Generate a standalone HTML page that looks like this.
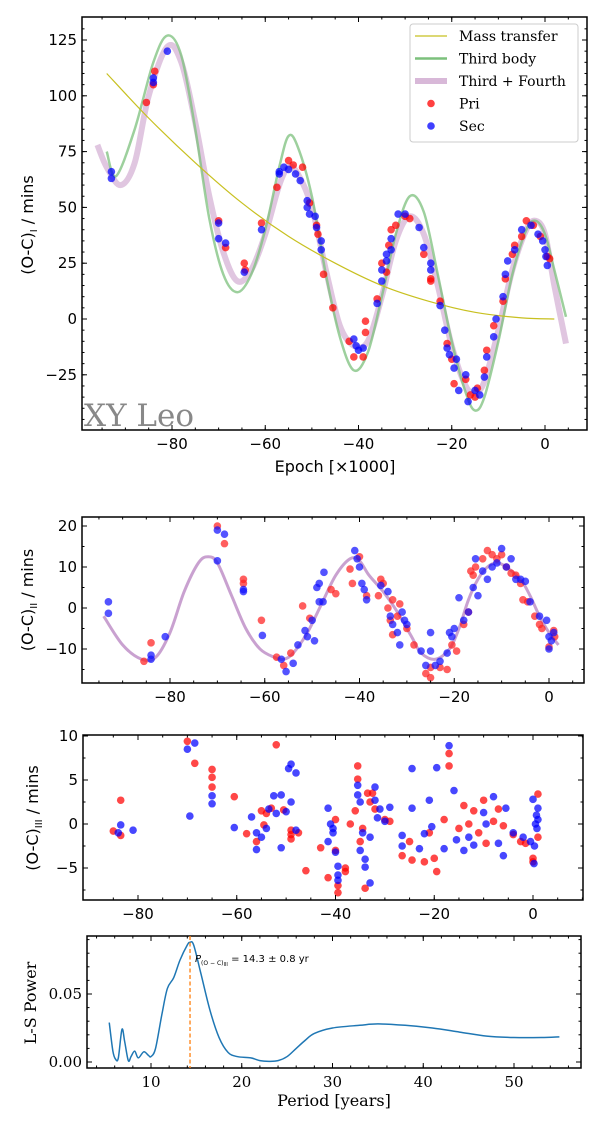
<!DOCTYPE html>
<html><head><meta charset="utf-8">
<style>
html,body{margin:0;padding:0;background:#fff;}
svg{display:block;}
</style></head>
<body>
<svg id="fig" width="600" height="1123" viewBox="0 0 600 1123" xmlns="http://www.w3.org/2000/svg"></svg>
<script>
// ---------- Panel 1 data ----------
const massEpoch = [-94,-85,-75,-65,-55,-45,-35,-25,-15,-5,2];
const massOC = [110,90,70,52,37,25,15,8,3,0.5,0];
const thirdEpoch = [-94,-92,-88,-84,-81,-78,-75,-72,-69,-66,-63,-60,-57,-55,-53,-50,-47,-44,-41,-38,-35,-32,-29,-26,-23,-20,-17,-15,-13,-10,-7,-4,-2,0,2,4.5];
const thirdOC = [75,64,85,115,127,118,85,45,20,12,20,40,68,82,77,55,20,-8,-23,-15,10,38,55,48,20,-10,-33,-41,-35,-10,20,40,44,38,22,1];
const fourthEpoch = [-96,-94,-91,-88,-85,-81,-78,-75,-72,-69,-66,-63,-60,-57,-55,-53,-50,-47,-44,-41,-38,-35,-32,-29,-26,-23,-20,-17,-15,-13,-10,-7,-4,-2,0,2,4.5];
const fourthOC = [78,68,60,70,100,122,115,88,55,30,17,22,38,60,68,65,50,22,-3,-12,-10,10,35,46,38,15,-12,-30,-33,-28,-5,22,40,44,38,15,-11];
const priEpoch1 = [-85.5,-84,-83.7,-70,-68.5,-64.5,-64.3,-60.8,-57.5,-55,-54,-52,-50.5,-49,-48.7,-47.5,-45.5,-42,-41,-39,-38.5,-38.5,-36,-35,-34,-33.5,-33,-32,-30,-29,-26,-24.5,-24.5,-22.5,-21,-20,-19.5,-17,-16,-15,-14.5,-13,-12.5,-11,-9,-8.5,-7,-6.5,-5,-4,-2.5,-1,0.5,1];
const priOC1 = [97,105,111,44,32,25,22,43,59,71,69,68,52,42,38,20,5,-10,-17,-17,-1,-6,9,25,21,33,40,42,46,45,29,17,18,8,-11,-18,-29,-27,-34,-35,-31,-23,-14,-3,8,18,29,33,37,44,42,37,28,27];
const secEpoch1 = [-93,-93,-84,-84,-81,-70,-70,-68.5,-64.5,-60.8,-57,-57,-56,-55,-53.5,-52.5,-51,-51,-50.5,-49.3,-49,-48,-48,-41,-40.5,-40,-39,-36,-35,-35,-34,-34,-33,-33,-31.5,-30,-27,-26,-24.5,-24.5,-22.5,-21.5,-21,-20.5,-19.5,-19,-18.5,-17,-16.5,-15,-14,-13,-12.5,-11,-10.5,-9,-8.5,-8,-6.5,-5,-3,-1.5,-0.5,0,0.2,0.5];
const secOC1 = [66,63,108,106,120,43,36,34,21,40,66,65,68,67,65,62,53,50,47,46,41,35,31,-9,-12,-14,-13,7,17,22,26,29,31,36,47,47,41,32,25,22,6,-5,-13,-16,-22,-18,-32,-25,-37,-32,-34,-26,-17,-8,0,10,20,26,31,40,42,38,35,31,28,24];
// ---------- Panel 2 data ----------
const resEpoch2 = [-94,-90,-86,-83,-80,-77,-74,-72,-70,-67,-64,-61,-58,-56,-54,-51,-48,-45,-42,-40,-38,-35,-32,-29,-27,-24,-21,-19,-17,-15,-13,-11,-9,-6,-4,-2,0,2];
const resOC2 = [-2,-9,-12.5,-12,-6,4,11,12.5,11,3,-5,-10,-12,-12.5,-11,-6,1,8,12,11.5,8,4,-1,-7,-11,-12.5,-10,-5,2,7,10,11,10,7,3,-2,-6,-9];
const secEpoch2 = [-93,-93,-84,-84,-81,-70,-70,-68.5,-64.5,-64.5,-60.5,-56.5,-55.5,-54,-53,-51.5,-51,-50,-49.5,-49,-48.5,-48.5,-47.5,-47.7,-41,-40.5,-40,-39.5,-39,-38.5,-35.5,-34,-33.5,-33,-32,-31,-30.5,-30,-31.5,-27,-26,-25,-25,-24,-23,-21.5,-21,-20.5,-20,-19,-18,-17,-16,-15.5,-15,-14,-13,-12,-11,-10,-9,-8,-7,-6,-5,-4,-2,-0.5,0,0,0.5,1];
const secOC2 = [1.5,-1.3,-11.5,-12.5,-7,19,11.5,18,4.5,4,-6.7,-12.5,-15.5,-13.5,-9,-5.5,-7,-3,-8,5,6,1.5,8.7,1.5,14,12,10,6,4.5,2,5.5,4,-2,-4,-6,-1,-3,-4,-9,-10.5,-14,-10.5,-6,-14,-13,-11,-6,-7,-5,2.5,-3,-1,5,12,3,9,7,10,11,14.5,10,12,7,7,6.5,1.5,-2,-3,-10,-7,-8,-6];
const priEpoch2 = [-85.5,-84,-70,-68.5,-64.5,-64.5,-60.7,-57.5,-56,-54.5,-52,-50.5,-46,-45,-42,-41.5,-40,-38.5,-36,-35.5,-35,-34,-33.5,-33,-33,-32,-31.5,-30,-28.5,-26,-25,-25,-23,-21.5,-20.5,-19.5,-18,-17,-16.5,-16,-15.5,-14,-13,-12,-11,-10,-9,-8,-7,-6,-5.5,-4.5,-3,-2,-1.5,0,1,1.2];
const priOC2 = [-13,-8.5,20,15.7,7,6,-3,-12,-14,-11,0.5,-2.5,4.5,3.5,9.5,6,12.5,3,3,7,6,0,-3,2,-6.5,-2,1,-5,-9,-16,-14.5,-17,-14.5,-15,-9,-10.5,-4,-1,9,8,10,12,14,13,12,13,10,8.5,8,6,2,1.5,-2,-4,-5,-9.5,-5.5,-7];
// ---------- Panel 3 data ----------
const priEpoch3 = [-85,-83.5,-83.5,-70,-68.5,-65,-65,-65,-60.5,-58,-56,-55,-54.5,-54,-53,-52,-50.5,-49,-49,-49,-47.5,-46,-43,-41.5,-40,-40,-39.5,-39.5,-38,-38,-37,-36,-35.5,-35.5,-35,-34.5,-34,-33.5,-33,-32.5,-32,-30,-29,-26.5,-25,-24.5,-22,-21,-20,-19.5,-18,-17,-17,-15,-14,-13,-12,-11,-10,-9.5,-8,-7,-6,-4,-2.5,-1.5,0,0,1,1];
const priOC3 = [-0.8,2.7,-1.3,9.4,6.9,6.2,5.3,4.2,3.1,-1.1,-2,1.5,-0.1,1.2,1.8,9,1.6,-0.7,-1.2,-1.7,-1,-5.3,-2.7,-6.1,-3,0.5,-7,-7.8,-5,-5.4,0,1.5,6.6,5.1,-2,-0.5,-7.3,3.5,2.5,3.5,1.7,0.5,0.3,-3.6,-2,-4.1,-4.3,-1,-3.9,-5.4,0.5,8,6.6,-0.5,2.1,0,1.5,-1,2.7,-2.2,0.3,1.7,-0.2,-1.2,-2,-2.2,-3.9,-4.3,3.4,-1.5];
const secEpoch3 = [-84,-83.5,-81,-70,-69.5,-68.5,-65,-65,-60.5,-57,-56,-56,-55,-54,-53.5,-52.5,-52,-51,-51,-50,-49.5,-49,-49,-48,-48,-41.5,-41.5,-41,-40.5,-40,-39.5,-39.5,-39.5,-40.5,-35.5,-35.5,-35,-35,-34.5,-34,-34,-33,-32,-32,-31.5,-31,-30,-29,-33,-26.5,-26.5,-24.5,-24.5,-23,-22,-21,-20.5,-19.5,-18,-17,-16,-15.5,-14,-13,-12,-10,-9.5,-8,-7,-6,-5.5,-4,-2,-0.5,0,0.3,0.2,0.5,0.7,0.8,1,1];
const secOC3 = [-1,-0.1,-0.7,8.5,0.9,9.2,3.2,2.3,-0.4,0.8,-2.9,-1,-1.5,-0.5,1.7,3.2,1.2,3.3,-2.7,1.4,6.3,6.8,2.5,5.8,-0.7,1.8,-2,0,-1,-3.2,-4.8,-6.4,-5.8,-0.5,4.4,3.3,2.5,-3,-1,-4,-4.9,-1.5,4.2,2.7,0.7,1.7,0.3,1.9,-6.7,-1.3,-2.5,1.8,6.3,-2.8,-1.1,2.7,-0.3,6.4,-2.8,8.9,3.8,-1.8,-3,-1.5,-2.4,1.3,0,3.1,-2.2,-3.6,1.8,-1,-1.5,-2,2.8,-2.5,-4.5,0,1,-0.5,1.8,0.5];
// ---------- Panel 4 data ----------
const lsPeriod = [5.4,5.8,6.1,6.4,6.8,7.1,7.5,7.8,8.2,8.6,9.2,9.7,10,10.5,11.2,11.8,12.5,13.2,14,14.3,14.7,15.5,16.5,17.5,18.5,19.5,21,22,23,24,25,26,27,28,30,33,35,38,41,44,47,50,53,55];
const lsPower = [0.029,0.008,0.002,0.003,0.024,0.015,0.001,0.004,0.008,0.003,0.0075,0.005,0.004,0.01,0.035,0.054,0.062,0.075,0.086,0.088,0.086,0.065,0.038,0.018,0.007,0.004,0.003,0.001,0.0005,0.001,0.004,0.01,0.016,0.021,0.025,0.027,0.028,0.027,0.025,0.022,0.019,0.018,0.018,0.0185];
const peakPeriod = [14.3];

const NS='http://www.w3.org/2000/svg';
const svg=document.getElementById('fig');
function mk(tag,attrs,parent){const e=document.createElementNS(NS,tag);for(const k in attrs)e.setAttribute(k,attrs[k]);(parent||svg).appendChild(e);return e;}
function scale(d0,d1,r0,r1){return v=>r0+(v-d0)*(r1-r0)/(d1-d0);}
function smoothPath(xs,ys,sx,sy){
  const p=xs.map((x,i)=>[sx(x),sy(ys[i])]);
  let d='M'+p[0][0].toFixed(2)+','+p[0][1].toFixed(2);
  for(let i=0;i<p.length-1;i++){
    const p0=p[i-1]||p[i],p1=p[i],p2=p[i+1],p3=p[i+2]||p2;
    const c1=[p1[0]+(p2[0]-p0[0])/6,p1[1]+(p2[1]-p0[1])/6];
    const c2=[p2[0]-(p3[0]-p1[0])/6,p2[1]-(p3[1]-p1[1])/6];
    d+='C'+c1[0].toFixed(2)+','+c1[1].toFixed(2)+' '+c2[0].toFixed(2)+','+c2[1].toFixed(2)+' '+p2[0].toFixed(2)+','+p2[1].toFixed(2);
  }
  return d;
}
function frame(g,L,T,R,B,sx,sy,xmaj,xmin,ymaj,ymin,xl,yl,font,fs){
  mk('rect',{x:L,y:T,width:R-L,height:B-T,fill:'none',stroke:'#000','stroke-width':1.5},g);
  const tk=mk('g',{stroke:'#000','stroke-width':1},g);
  xmin.forEach(v=>{const x=sx(v);mk('line',{x1:x,x2:x,y1:B,y2:B-2.5},tk);mk('line',{x1:x,x2:x,y1:T,y2:T+2.5},tk);});
  xmaj.forEach(v=>{const x=sx(v);mk('line',{x1:x,x2:x,y1:B,y2:B-5},tk);mk('line',{x1:x,x2:x,y1:T,y2:T+5},tk);});
  ymin.forEach(v=>{const y=sy(v);mk('line',{x1:L,x2:L+2.5,y1:y,y2:y},tk);mk('line',{x1:R,x2:R-2.5,y1:y,y2:y},tk);});
  ymaj.forEach(v=>{const y=sy(v);mk('line',{x1:L,x2:L+5,y1:y,y2:y},tk);mk('line',{x1:R,x2:R-5,y1:y,y2:y},tk);});
  xmaj.forEach((v,i)=>{const t=mk('text',{x:sx(v),y:B+19,'text-anchor':'middle','font-family':font,'font-size':fs,fill:'#000'},g);t.textContent=xl[i];});
  ymaj.forEach((v,i)=>{const t=mk('text',{x:L-5,y:sy(v)+5,'text-anchor':'end','font-family':font,'font-size':fs,fill:'#000'},g);t.textContent=yl[i];});
}
function range(a,b,s){const r=[];for(let v=a;v<=b+1e-9;v+=s)r.push(+v.toFixed(6));return r;}
function dots(g,xs,ys,sx,sy,color,name){
  xs.forEach((x,i)=>{const c=mk('circle',{cx:sx(x),cy:sy(ys[i]),r:3.8,fill:color,'fill-opacity':0.72},g);});
}
const SANS='"DejaVu Sans","Liberation Sans",sans-serif';
const SERIF='"DejaVu Serif","Liberation Serif",serif';

// ===== Panel 1 =====
(function(){
  const g=mk('g',{});
  const L=82,R=587,T=17,B=430;
  const sx=scale(-80,0,172,545), sy=scale(0,125,319,40);
  const cl=mk('clipPath',{id:'c1'});mk('rect',{x:L,y:T,width:R-L,height:B-T},cl);
  const pg=mk('g',{'clip-path':'url(#c1)'},g);
  let p=mk('path',{d:smoothPath(fourthEpoch,fourthOC,sx,sy),fill:'none',stroke:'#d8b8d8','stroke-width':6,'stroke-opacity':0.8},pg);
  p=mk('path',{d:smoothPath(thirdEpoch,thirdOC,sx,sy),fill:'none',stroke:'#7cc07c','stroke-width':2.5,'stroke-opacity':0.75},pg);
  p=mk('path',{d:smoothPath(massEpoch,massOC,sx,sy),fill:'none',stroke:'#c8c020','stroke-width':1.2},pg);
  dots(pg,priEpoch1,priOC1,sx,sy,'#ff0000','pri-point');
  dots(pg,secEpoch1,secOC1,sx,sy,'#0000ff','sec-point');
  frame(g,L,T,R,B,sx,sy,[-80,-60,-40,-20,0],range(-95,5,5),[-25,0,25,50,75,100,125],range(-45,130,5),['−80','−60','−40','−20','0'],['−25','0','25','50','75','100','125'],SANS,15);
  let t=mk('text',{x:84,y:426,'font-family':SERIF,'font-size':31,fill:'#888'},g);t.textContent='XY Leo';
  t=mk('text',{x:335,y:472,'text-anchor':'middle','font-family':SANS,'font-size':16},g);t.textContent='Epoch [×1000]';
  t=mk('text',{transform:'translate(33,225) rotate(-90)','text-anchor':'middle','font-family':SANS,'font-size':16},g);t.innerHTML='(O-C)<tspan font-size="10" dy="4">I</tspan><tspan dy="-4"> / mins</tspan>';
  // legend
  const lg=mk('g',{});
  mk('rect',{x:410,y:24,width:168,height:118,rx:3,fill:'#fff','fill-opacity':0.85,stroke:'#ccc'},lg);
  const items=[['Mass transfer','line','#c8c020',1.2],['Third body','line','#7cc07c',2.5],['Third + Fourth','line','#d8b8d8',6],['Pri','dot','#ff0000'],['Sec','dot','#0000ff']];
  items.forEach((it,i)=>{const y=36+i*22.5;const e=mk('g',{},lg);
    if(it[1]==='line')mk('line',{x1:415,x2:447,y1:y,y2:y,stroke:it[2],'stroke-width':it[3]},e);else mk('circle',{cx:431,cy:y,r:3.8,fill:it[2],'fill-opacity':0.75},e);
    const tt=mk('text',{x:459,y:y+5,'font-family':SERIF,'font-size':14},e);tt.textContent=it[0];});
})();

// ===== Panel 2 =====
(function(){
  const g=mk('g',{});
  const L=82,R=584,T=517,B=683;
  const sx=scale(-80,0,170,549), sy=scale(0,10,608,567);
  const cl=mk('clipPath',{id:'c2'});mk('rect',{x:L,y:T,width:R-L,height:B-T},cl);
  const pg=mk('g',{'clip-path':'url(#c2)'},g);
  const p=mk('path',{d:smoothPath(resEpoch2,resOC2,sx,sy),fill:'none',stroke:'#c090c8','stroke-width':3,'stroke-opacity':0.85},pg);
  dots(pg,priEpoch2,priOC2,sx,sy,'#ff2020','pri-point');
  dots(pg,secEpoch2,secOC2,sx,sy,'#1010ff','sec-point');
  frame(g,L,T,R,B,sx,sy,[-80,-60,-40,-20,0],range(-95,5,5),[-10,0,10,20],range(-15,20,5),['−80','−60','−40','−20','0'],['−10','0','10','20'],SANS,15);
  const t=mk('text',{transform:'translate(33,600) rotate(-90)','text-anchor':'middle','font-family':SANS,'font-size':16},g);t.innerHTML='(O-C)<tspan font-size="10" dy="4">II</tspan><tspan dy="-4"> / mins</tspan>';
})();

// ===== Panel 3 =====
(function(){
  const g=mk('g',{});
  const L=83,R=583,T=735,B=900;
  const sx=scale(-80,0,138,533), sy=scale(0,5,824,780);
  const cl=mk('clipPath',{id:'c3'});mk('rect',{x:L,y:T,width:R-L,height:B-T},cl);
  const pg=mk('g',{'clip-path':'url(#c3)'},g);
  dots(pg,priEpoch3,priOC3,sx,sy,'#ff0000','pri-point');
  dots(pg,secEpoch3,secOC3,sx,sy,'#0000ff','sec-point');
  frame(g,L,T,R,B,sx,sy,[-80,-60,-40,-20,0],range(-85,10,5),[-5,0,5,10],range(-7.5,10,2.5),['−80','−60','−40','−20','0'],['−5','0','5','10'],SANS,15);
  const t=mk('text',{transform:'translate(38,818) rotate(-90)','text-anchor':'middle','font-family':SANS,'font-size':16},g);t.innerHTML='(O-C)<tspan font-size="10" dy="4">III</tspan><tspan dy="-4"> / mins</tspan>';
})();

// ===== Panel 4 =====
(function(){
  const g=mk('g',{});
  const L=87,R=581,T=936,B=1068;
  const sx=scale(10,50,151,514), sy=scale(0,0.05,1062,994);
  frame(g,L,T,R,B,sx,sy,[10,20,30,40,50],range(4,57,2),[0,0.05],range(0,0.09,0.01),['10','20','30','40','50'],['0.00','0.05'],SERIF,15);
  let p=mk('path',{d:smoothPath(lsPeriod,lsPower,sx,sy),fill:'none',stroke:'#1f77b4','stroke-width':1.5},g);
  const px=sx(peakPeriod[0]);
  p=mk('line',{x1:px,x2:px,y1:T,y2:B,stroke:'#ff7f0e','stroke-width':1.3,'stroke-dasharray':'4,2.5'},g);
  let t=mk('text',{x:px+5,y:962,'font-family':SANS,'font-size':10},g);t.innerHTML='<tspan font-style="italic">P</tspan><tspan font-size="6" dy="3">(O − C)</tspan><tspan font-size="5" dy="1">III</tspan><tspan dy="-4"> = 14.3 ± 0.8 yr</tspan>';
  t=mk('text',{x:334,y:1106,'text-anchor':'middle','font-family':SERIF,'font-size':16},g);t.textContent='Period [years]';
  t=mk('text',{transform:'translate(36,1003) rotate(-90)','text-anchor':'middle','font-family':SERIF,'font-size':16},g);t.textContent='L-S Power';
})();
</script>
</body></html>
